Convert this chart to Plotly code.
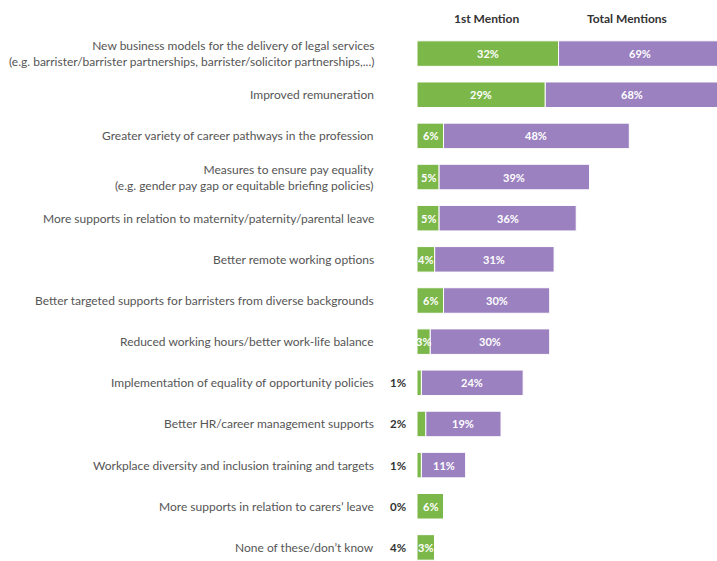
import plotly.graph_objects as go

categories = [
    "New business models for the delivery of legal services<br>(e.g. barrister/barrister partnerships, barrister/solicitor partnerships,...)",
    "Improved remuneration",
    "Greater variety of career pathways in the profession",
    "Measures to ensure pay equality<br>(e.g. gender pay gap or equitable briefing policies)",
    "More supports in relation to maternity/paternity/parental leave",
    "Better remote working options",
    "Better targeted supports for barristers from diverse backgrounds",
    "Reduced working hours/better work-life balance",
    "Implementation of equality of opportunity policies",
    "Better HR/career management supports",
    "Workplace diversity and inclusion training and targets",
    "More supports in relation to carers\u2019 leave",
    "None of these/don\u2019t know",
]
first_mention = [32, 29, 6, 5, 5, 4, 6, 3, 1, 2, 1, 0, 4]
total_mentions = [69, 68, 48, 39, 36, 31, 30, 30, 24, 19, 11, 6, 3]
# rows drawn as a single green bar labelled with the total
single_bar_rows = [False] * 11 + [True, True]

GREEN = "#7cb749"
PURPLE = "#9b81c0"
FONT = "Lato"

n = len(categories)
ypos = list(range(n))

green_len = []
purple_len = []
for f, t, s in zip(first_mention, total_mentions, single_bar_rows):
    if s:
        green_len.append(max(f, t))
        purple_len.append(0)
    else:
        green_len.append(f)
        purple_len.append(t - f)

fig = go.Figure()
fig.add_trace(go.Bar(
    y=ypos, x=green_len, orientation="h", width=0.62,
    marker=dict(color=GREEN, line=dict(color="white", width=1)),
    hoverinfo="skip", showlegend=False,
))
fig.add_trace(go.Bar(
    y=ypos, x=purple_len, base=green_len, orientation="h", width=0.62,
    marker=dict(color=PURPLE, line=dict(color="white", width=1)),
    hoverinfo="skip", showlegend=False,
))

annotations = []
for i in range(n):
    f, t, s = first_mention[i], total_mentions[i], single_bar_rows[i]
    annotations.append(dict(
        xref="paper", yref="y", x=0, y=i, xshift=-41, xanchor="right",
        yanchor="middle", align="right", text=categories[i], showarrow=False,
        font=dict(family=FONT, size=12, color="#555555"),
    ))
    bar_font = dict(family=FONT, size=11, color="white", weight="bold")
    out_font = dict(family=FONT, size=11.5, color="#333333", weight="bold")
    if s:
        annotations.append(dict(
            xref="x", yref="y", x=green_len[i] / 2, y=i, text=f"{t}%",
            showarrow=False, font=bar_font))
        annotations.append(dict(
            xref="x", yref="y", x=0, y=i, xshift=-9, xanchor="right",
            text=f"{f}%", showarrow=False, font=out_font))
    else:
        if f >= 3:
            annotations.append(dict(
                xref="x", yref="y", x=f / 2, y=i, text=f"{f}%",
                showarrow=False, font=bar_font))
        else:
            annotations.append(dict(
                xref="x", yref="y", x=0, y=i, xshift=-9, xanchor="right",
                text=f"{f}%", showarrow=False, font=out_font))
        annotations.append(dict(
            xref="x", yref="y", x=f + (t - f) / 2, y=i, text=f"{t}%",
            showarrow=False, font=bar_font))

head_font = dict(family=FONT, size=12, color="#333333", weight="bold")
annotations.append(dict(xref="paper", yref="paper", x=(486 - 417) / 300, y=1,
                        yshift=15, text="1st Mention", showarrow=False,
                        font=head_font, xanchor="center", yanchor="middle"))
annotations.append(dict(xref="paper", yref="paper", x=(627 - 417) / 300, y=1,
                        yshift=15, text="Total Mentions", showarrow=False,
                        font=head_font, xanchor="center", yanchor="middle"))

fig.update_layout(
    width=717, height=561,
    margin=dict(l=417, r=0, t=33, b=0),
    paper_bgcolor="white", plot_bgcolor="white",
    barmode="overlay",
    xaxis=dict(range=[0, 300 / 4.423], visible=False, fixedrange=True),
    yaxis=dict(range=[12.33, -0.5], visible=False, fixedrange=True),
    annotations=annotations,
)
fig.write_html("out.html", config={"displayModeBar": False},
               post_script="document.body.style.margin='0';document.body.style.overflow='hidden';")
